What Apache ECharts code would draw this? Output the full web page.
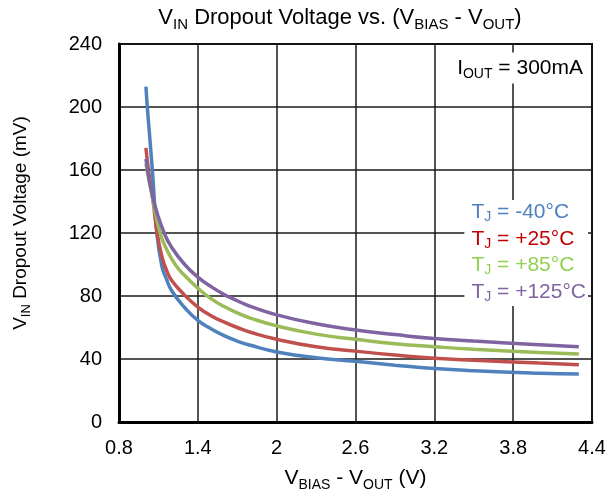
<!DOCTYPE html>
<html>
<head>
<meta charset="utf-8">
<script src="https://cdn.jsdelivr.net/npm/echarts@6/dist/echarts.min.js"></script>
<style>
  html, body { margin: 0; padding: 0; background: #fff; }
  #chart { width: 609px; height: 500px; }
</style>
</head>
<body>
<div id="chart"></div>
<script>
// values (x: VBIAS - VOUT in V, y: dropout in mV)
const tempLabels = ['-40°C', '+25°C', '+85°C', '+125°C']
const lineColors = ['#4f81bd', '#c0504d', '#9bbb59', '#8064a2']
const textColors = ['#4f81bd', '#c00000', '#92d050', '#8064a2']

const xM40 = [1.005, 1.02, 1.054, 1.088, 1.126, 1.16, 1.2, 1.3, 1.4, 1.5, 1.6, 1.7, 1.8, 2.0, 2.3, 2.6, 2.9, 3.2, 3.5, 4.0, 4.3]
const yM40 = [213, 195, 160, 120, 99, 91, 83.5, 72.7, 64.5, 59.2, 54.8, 51.4, 48.7, 44.5, 40.8, 38.5, 36.1, 34, 32.6, 31, 30.4]

const xP25 = [1.005, 1.024, 1.06, 1.09, 1.13, 1.164, 1.2, 1.3, 1.4, 1.5, 1.6, 1.7, 1.8, 2.0, 2.3, 2.6, 2.9, 3.2, 3.5, 4.0, 4.3]
const yP25 = [174, 160, 140, 120, 104, 96, 90, 80.5, 73, 67.5, 63.5, 60, 57, 52.5, 47.8, 45, 42.5, 40.5, 39.2, 37.4, 36.4]

const xP85 = [1.005, 1.06, 1.113, 1.16, 1.228, 1.3, 1.4, 1.5, 1.6, 1.7, 1.8, 2.0, 2.3, 2.6, 2.9, 3.2, 3.5, 4.0, 4.3]
const yP85 = [164, 140, 120, 110, 100, 93, 85, 78.3, 73.3, 69.3, 66, 61, 55.8, 52.5, 49.7, 47.8, 46.2, 44.2, 43.2]

const xP125 = [1.005, 1.065, 1.144, 1.2, 1.3, 1.4, 1.5, 1.6, 1.7, 1.8, 2.0, 2.3, 2.6, 2.9, 3.2, 3.5, 4.0, 4.3]
const yP125 = [167, 140, 120, 111, 100, 92, 86, 81, 77, 73.4, 68, 62.4, 58.4, 55.5, 53, 51.4, 49.1, 47.8]

const xs = [xM40, xP25, xP85, xP125]
const ys = [yM40, yP25, yP85, yP125]

const font = 'Liberation Sans, Arial, sans-serif'
const sub = (size) => ({ fontSize: size, fontFamily: font, verticalAlign: 'bottom', lineHeight: size })
const main = (size, lh) => ({ fontSize: size, fontFamily: font, lineHeight: lh || size + 6 })

const chart = echarts.init(document.getElementById('chart'))

chart.setOption({
  animation: false,
  grid: {
    left: 119, right: 17, top: 44, bottom: 78,
    show: true, borderColor: '#000', borderWidth: 2
  },
  xAxis: {
    type: 'value',
    min: 0.8, max: 4.4, interval: 0.6,
    name: '{a|V}{s|BIAS}{a| - V}{s|OUT}{a| (V)}',
    nameLocation: 'middle',
    nameGap: 43,
    nameTextStyle: { color: '#000', rich: { a: main(21), s: sub(14) } },
    axisLine: { lineStyle: { color: '#000', width: 3 } },
    axisTick: { show: false },
    axisLabel: { color: '#000', fontSize: 20, fontFamily: font, margin: 16 },
    splitLine: { lineStyle: { color: '#1a1a1a', width: 1.5 } }
  },
  yAxis: {
    type: 'value',
    min: 0, max: 240, interval: 40,
    name: '{a|V}{s|IN}{a| Dropout Voltage (mV)}',
    nameLocation: 'middle',
    nameGap: 86,
    nameTextStyle: { color: '#000', padding: [0, 0, 0, 20], rich: { a: main(19), s: sub(13) } },
    axisLine: { show: true, lineStyle: { color: '#000', width: 3 } },
    axisTick: { show: false },
    axisLabel: { color: '#000', fontSize: 20, fontFamily: font, margin: 17 },
    splitLine: { lineStyle: { color: '#1a1a1a', width: 1.5 } }
  },
  legend: {
    orient: 'vertical',
    right: 21, top: 200,
    icon: 'none',
    itemWidth: 0, itemHeight: 0, itemGap: 4,
    padding: [2, 2, 2, 2],
    backgroundColor: '#fff',
    selectedMode: false,
    data: tempLabels.map((t, i) => ({ name: t, textStyle: { color: textColors[i] } })),
    formatter: (name) => `{a|T}{s|J}{a| = ${name}}`,
    textStyle: { rich: { a: main(21, 24), s: sub(14) } }
  },
  graphic: [
    {
      type: 'text',
      x: 340, y: 18,
      style: {
        text: '{a|V}{s|IN}{a| Dropout Voltage vs. (V}{s|BIAS}{a| - V}{s|OUT}{a|)}',
        align: 'center', verticalAlign: 'middle',
        fill: '#000',
        rich: { a: main(22), s: sub(15) }
      }
    },
    {
      type: 'text',
      x: 585, y: 68,
      z: 10,
      style: {
        text: '{a|I}{s|OUT}{a| = 300mA}',
        align: 'right', verticalAlign: 'middle',
        fill: '#000',
        backgroundColor: '#fff',
        padding: [2, 2, 2, 4],
        rich: { a: main(21), s: sub(14) }
      }
    }
  ],
  series: tempLabels.map((t, i) => ({
    name: t,
    type: 'line',
    smooth: 0.5,
    showSymbol: false,
    data: xs[i].map((x, j) => [x, ys[i][j]]),
    lineStyle: { color: lineColors[i], width: 3.5 },
    itemStyle: { color: lineColors[i] }
  }))
})
</script>
</body>
</html>
